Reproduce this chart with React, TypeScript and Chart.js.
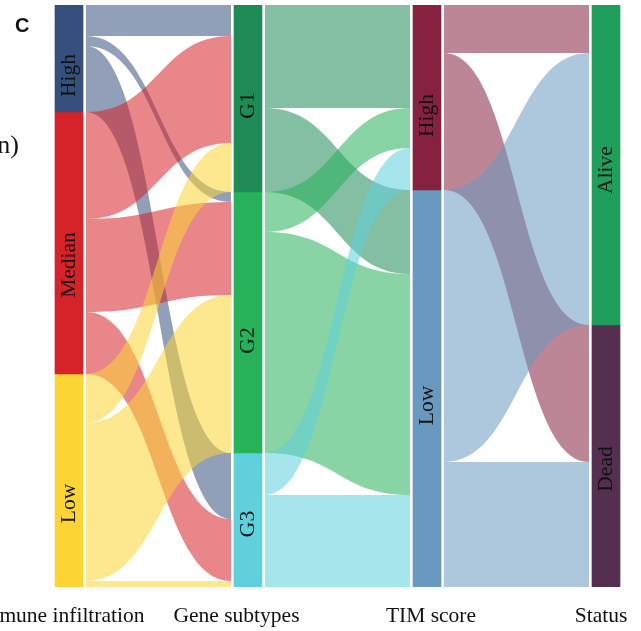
import React, { useEffect, useRef } from 'react';
import { Chart, registerables } from 'chart.js';

Chart.register(...registerables);

// ---------------- data ----------------
const axisTitles = ['Immune infiltration', 'Gene subtypes', 'TIM score', 'Status'];
const immuneLevels = ['High', 'Median', 'Low'];
const geneLevels = ['G1', 'G2', 'G3'];
const timLevels = ['High', 'Low'];
const statusLevels = ['Alive', 'Dead'];

// flow sizes: rows = source stratum, columns = target stratum
const immuneToGene = [
  [31, 10, 66],
  [107, 93, 62],
  [49, 158, 6],
];
const geneToTim = [
  [103, 84],
  [40, 221],
  [42, 92],
];
const timToStatus = [
  [48, 137],
  [272, 125],
];

const immuneColors = ['#36507e', '#d62229', '#fcd535'];
const geneColors = ['#1e8b56', '#27b15b', '#5fd0dc'];
const timColors = ['#86223f', '#6a99c0'];
const statusColors = ['#1f9e5c', '#552f50'];

// ---------------- layout / style constants ----------------
const W = 641;
const H = 631;
const COL0_PX = 69;
const COL_STEP_PX = 179;
const BAR_W = 28;
const FLOW_GAP = 3;
const FLOW_ALPHA = 0.55;
const SERIF = '"Liberation Serif", "Times New Roman", serif';
const LABEL_OFFSETS = [
  [17, 22, 23],
  [7, 18, 4],
  [18, 17],
  [5, 13],
];
const TITLE_OFFSETS = [-9, -11.5, 4, -5];

const axes = [
  { levels: immuneLevels, colors: immuneColors },
  { levels: geneLevels, colors: geneColors },
  { levels: timLevels, colors: timColors },
  { levels: statusLevels, colors: statusColors },
];
const flowSets = [immuneToGene, geneToTim, timToStatus];

const sum = (a: number[]) => a.reduce((s, v) => s + v, 0);
const strataSizes: number[][] = axes.map((ax, k) =>
  k === 0
    ? flowSets[0].map((row) => sum(row))
    : ax.levels.map((_, j) => sum(flowSets[k - 1].map((row) => row[j])))
);
const strataStarts: number[][] = strataSizes.map((sizes) => {
  let acc = 0;
  return sizes.map((s) => {
    const st = acc;
    acc += s;
    return st;
  });
});
const TOTAL = sum(strataSizes[0]);

function hexToRgba(hex: string, a: number) {
  const n = parseInt(hex.slice(1), 16);
  return `rgba(${(n >> 16) & 255},${(n >> 8) & 255},${n & 255},${a})`;
}

const flowPlugin = {
  id: 'alluvialFlows',
  beforeDatasetsDraw(chart: any) {
    const { ctx } = chart;
    const xs = chart.scales.x;
    const ys = chart.scales.y;
    ctx.save();
    flowSets.forEach((M, k) => {
      const xa = xs.getPixelForValue(k) + BAR_W / 2 + FLOW_GAP;
      const xb = xs.getPixelForValue(k + 1) - BAR_W / 2 - FLOW_GAP;
      const xm = (xa + xb) / 2;
      const colors = axes[k].colors;
      M.forEach((row, i) => {
        row.forEach((v, j) => {
          if (!v) return;
          const la = strataStarts[k][i] + sum(row.slice(0, j));
          let rb = strataStarts[k + 1][j];
          for (let ii = 0; ii < i; ii++) rb += M[ii][j];
          const ya0 = ys.getPixelForValue(la);
          const ya1 = ys.getPixelForValue(la + v);
          const yb0 = ys.getPixelForValue(rb);
          const yb1 = ys.getPixelForValue(rb + v);
          ctx.beginPath();
          ctx.moveTo(xa, ya0);
          ctx.bezierCurveTo(xm, ya0, xm, yb0, xb, yb0);
          ctx.lineTo(xb, yb1);
          ctx.bezierCurveTo(xm, yb1, xm, ya1, xa, ya1);
          ctx.closePath();
          ctx.fillStyle = hexToRgba(colors[i], FLOW_ALPHA);
          ctx.fill();
        });
      });
    });
    ctx.restore();
  },
  afterDatasetsDraw(chart: any) {
    const { ctx } = chart;
    const xs = chart.scales.x;
    const ys = chart.scales.y;
    ctx.save();
    ctx.fillStyle = '#111';
    // stratum labels
    ctx.font = `21.5px ${SERIF}`;
    ctx.textAlign = 'center';
    ctx.textBaseline = 'middle';
    axes.forEach((ax, k) => {
      const cx = xs.getPixelForValue(k);
      ax.levels.forEach((lab, s) => {
        const cy = ys.getPixelForValue(strataStarts[k][s] + strataSizes[k][s] / 2) + LABEL_OFFSETS[k][s];
        ctx.save();
        ctx.translate(cx, cy);
        ctx.rotate(-Math.PI / 2);
        ctx.fillText(lab, 0, 0);
        ctx.restore();
      });
    });
    // axis titles
    ctx.textBaseline = 'alphabetic';
    axisTitles.forEach((t, k) => {
      ctx.fillText(t, xs.getPixelForValue(k) + TITLE_OFFSETS[k], 622);
    });
    // panel letter and cropped neighbour text
    ctx.font = `bold 20px "Liberation Sans", Arial, sans-serif`;
    ctx.textAlign = 'left';
    ctx.fillText('C', 15, 32);
    ctx.font = `26px ${SERIF}`;
    ctx.textAlign = 'right';
    ctx.fillText('n)', 19, 153);
    ctx.restore();
  },
};

export default function App() {
  const ref = useRef<HTMLCanvasElement | null>(null);
  useEffect(() => {
    if (!ref.current) return;
    const datasets: any[] = [];
    axes.forEach((ax, k) => {
      ax.levels.forEach((lab, s) => {
        datasets.push({
          label: `${axisTitles[k]}: ${lab}`,
          data: [{ x: k, y: [strataStarts[k][s], strataStarts[k][s] + strataSizes[k][s]] }],
          backgroundColor: ax.colors[s],
          borderWidth: 0,
          barThickness: BAR_W,
          grouped: false,
        });
      });
    });
    const chart = new Chart(ref.current, {
      type: 'bar',
      data: { datasets },
      options: {
        animation: false,
        responsive: true,
        maintainAspectRatio: false,
        layout: { padding: { top: 5, bottom: 44, left: 0, right: 0 } },
        plugins: {
          legend: { display: false },
          tooltip: { enabled: false },
          title: { display: false },
        },
        scales: {
          x: {
            type: 'linear',
            min: -COL0_PX / COL_STEP_PX,
            max: (W - COL0_PX) / COL_STEP_PX,
            display: false,
            offset: false,
          },
          y: { type: 'linear', min: 0, max: TOTAL, reverse: true, display: false },
        },
      } as any,
      plugins: [flowPlugin],
    });
    return () => chart.destroy();
  }, []);
  return (
    <div style={{ position: 'fixed', left: 0, top: 0, width: W, height: H, background: '#fff' }}>
      <canvas ref={ref} />
    </div>
  );
}
